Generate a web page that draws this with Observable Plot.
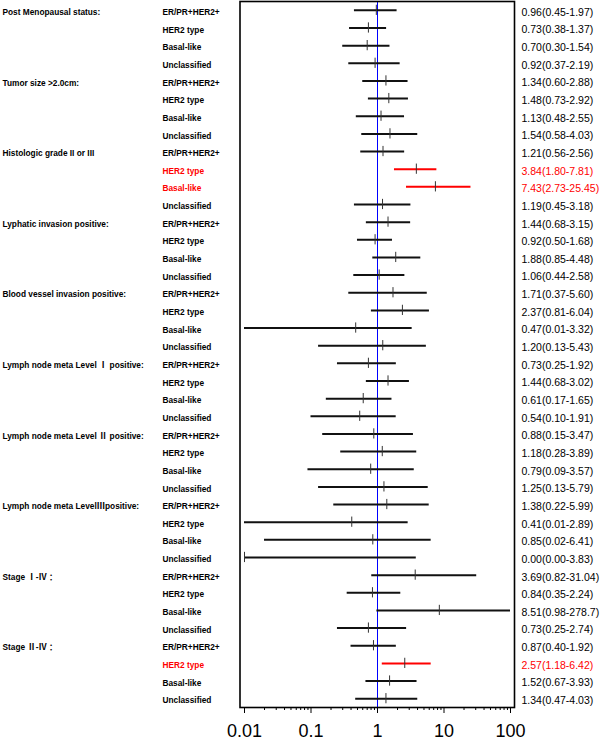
<!DOCTYPE html>
<html>
<head>
<meta charset="utf-8">
<script src="https://cdn.jsdelivr.net/npm/d3@7"></script>
<script src="https://cdn.jsdelivr.net/npm/@observablehq/plot@0.6"></script>
<style>
  html, body { margin: 0; padding: 0; background: #fff; }
  #chart svg { display: block; }
</style>
</head>
<body>
<div id="chart"></div>
<script>
// ---- data ----
const groups = [
  "Post Menopausal status:",
  "Tumor size >2.0cm:",
  "Histologic grade II or III",
  "Lyphatic invasion positive:",
  "Blood vessel invasion positive:",
  "Lymph node meta Level Ⅰ positive:",
  "Lymph node meta Level Ⅱ positive:",
  "Lymph node meta LevelⅢpositive:",
  "Stage Ⅰ-Ⅳ ：",
  "Stage Ⅱ-Ⅳ ："
];
const subtypes = ["ER/PR+HER2+", "HER2 type", "Basal-like", "Unclassified"];

const hazardRatio = [
  0.96, 0.73, 0.70, 0.92,
  1.34, 1.48, 1.13, 1.54,
  1.21, 3.84, 7.43, 1.19,
  1.44, 0.92, 1.88, 1.06,
  1.71, 2.37, 0.47, 1.20,
  0.73, 1.44, 0.61, 0.54,
  0.88, 1.18, 0.79, 1.25,
  1.38, 0.41, 0.85, 0.00,
  3.69, 0.84, 8.51, 0.73,
  0.87, 2.57, 1.52, 1.34
];
const lowerCI = [
  0.45, 0.38, 0.30, 0.37,
  0.60, 0.73, 0.48, 0.58,
  0.56, 1.80, 2.73, 0.45,
  0.68, 0.50, 0.85, 0.44,
  0.37, 0.81, 0.01, 0.13,
  0.25, 0.68, 0.17, 0.10,
  0.15, 0.28, 0.09, 0.13,
  0.22, 0.01, 0.02, 0.00,
  0.82, 0.35, 0.98, 0.25,
  0.40, 1.18, 0.67, 0.47
];
const upperCI = [
  1.97, 1.37, 1.54, 2.19,
  2.88, 2.92, 2.55, 4.03,
  2.56, 7.81, 25.45, 3.18,
  3.15, 1.68, 4.48, 2.58,
  5.60, 6.04, 3.32, 5.43,
  1.92, 3.02, 1.65, 1.91,
  3.47, 3.89, 3.57, 5.79,
  5.99, 2.89, 6.41, 3.83,
  31.04, 2.24, 278.7, 2.74,
  1.92, 6.42, 3.93, 4.03
];
// significant rows, as [group index, subtype index]
const significant = [[2, 1], [2, 2], [9, 1]];

const xDomain = [0.01, 100];
const xTicks = [0.01, 0.1, 1, 10, 100];
const xTickLabels = ["0.01", "0.1", "1", "10", "100"];

// ---- build table ----
const fmt = v => v >= 100 ? v.toFixed(1) : v.toFixed(2);
const clip = v => Math.max(xDomain[0], Math.min(xDomain[1], v));
const rows = groups.flatMap((g, gi) => subtypes.map((s, si) => {
  const i = gi * subtypes.length + si;
  return {
    group: g, subtype: s, gi, si, row: i,
    hr: hazardRatio[i], lo: lowerCI[i], hi: upperCI[i],
    label: `${fmt(hazardRatio[i])}(${fmt(lowerCI[i])}-${fmt(upperCI[i])})`,
    red: significant.some(([a, b]) => a === gi && b === si)
  };
}));
const minorTicks = d3.scaleLog().domain(xDomain).ticks().filter(t => !xTicks.some(m => Math.abs(m - t) < 1e-9));

const RED = "#ff0000";
const INK = "#111";
const labelFont = 8.3;

const chart = Plot.plot({
  width: 600,
  height: 746,
  marginLeft: 239.5,
  marginRight: 86,
  marginTop: 1,
  marginBottom: 39,
  style: {fontFamily: "'Liberation Sans', Arial, 'Noto Sans CJK SC', sans-serif", background: "#fff", color: "#000"},
  x: {type: "log", domain: xDomain, insetLeft: 4.5, insetRight: 4},
  y: {domain: [-0.5, rows.length - 0.5], reverse: true, axis: null},
  marks: [
    Plot.ruleX([1], {stroke: "#0000ff", strokeWidth: 1}),
    // confidence intervals
    Plot.ruleY(rows, {filter: d => !d.red, y: "row", x1: d => clip(d.lo), x2: d => clip(d.hi), stroke: INK, strokeWidth: 2}),
    Plot.ruleY(rows, {filter: d => d.red, y: "row", x1: d => clip(d.lo), x2: d => clip(d.hi), stroke: RED, strokeWidth: 2}),
    // point estimates
    Plot.ruleX(rows, {x: d => clip(d.hr), y1: d => d.row - 0.29, y2: d => d.row + 0.29, stroke: "#333", strokeWidth: 1}),
    Plot.frame({stroke: "#000", strokeWidth: 1.6}),
    // right-hand values
    Plot.text(rows, {filter: d => !d.red, y: "row", text: "label", frameAnchor: "right", textAnchor: "start", dx: 7, dy: 2, fontSize: 10.5, fill: "#000"}),
    Plot.text(rows, {filter: d => d.red, y: "row", text: "label", frameAnchor: "right", textAnchor: "start", dx: 7, dy: 2, fontSize: 10.5, fill: RED}),
    // subtype labels
    Plot.text(rows, {filter: d => !d.red, y: "row", text: "subtype", frameAnchor: "left", textAnchor: "start", dx: -77.5, dy: 2, fontSize: labelFont, fontWeight: "bold", fill: "#000"}),
    Plot.text(rows, {filter: d => d.red, y: "row", text: "subtype", frameAnchor: "left", textAnchor: "start", dx: -77.5, dy: 2, fontSize: labelFont, fontWeight: "bold", fill: RED}),
    // group labels
    Plot.text(rows, {filter: d => d.si === 0, y: "row", text: "group", frameAnchor: "left", textAnchor: "start", dx: -237.5, dy: 2, fontSize: labelFont, fontWeight: "bold", fill: "#000"}),
    // axis
    Plot.axisX(minorTicks, {tickSize: 3, tickFormat: () => "", stroke: "#000"}),
    Plot.axisX(xTicks, {tickSize: 6, tickPadding: 11, fontSize: 18, stroke: "#000", fill: "#000", tickFormat: d => xTickLabels[xTicks.indexOf(d)]})
  ]
});
document.getElementById("chart").appendChild(chart);
</script>
</body>
</html>
